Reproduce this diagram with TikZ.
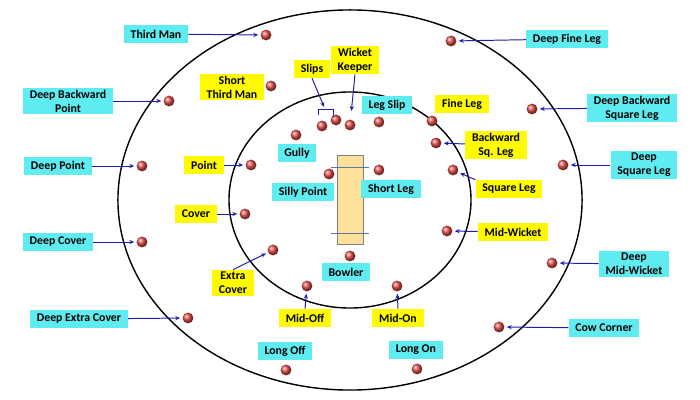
\documentclass[tikz,border=0pt]{standalone}
\usepackage{fontspec}
\setmainfont{Carlito}
\usetikzlibrary{arrows.meta}
\definecolor{deepcyan}{RGB}{95,236,240}
\definecolor{closeyellow}{RGB}{255,250,0}
\definecolor{pointerblue}{RGB}{30,30,170}
\definecolor{pitchfill}{RGB}{253,225,155}
\definecolor{creaseblue}{RGB}{90,120,170}
\definecolor{ballred}{RGB}{225,75,70}
\newcommand{\lbl}{\bfseries\fontsize{8.4}{10}\selectfont}

\begin{document}
\begin{tikzpicture}[x=0.025cm, y=-0.025cm,
        fielder/.style={circle, inner sep=0pt, minimum size=0.27cm, shading=ball, ball color=ballred},
        deepbox/.style={fill=deepcyan, align=center, inner xsep=4.8pt, inner ysep=1.5pt, minimum height=0.45cm, font=\lbl},
        closebox/.style={fill=closeyellow, align=center, inner xsep=4.8pt, inner ysep=1.5pt, minimum height=0.45cm, font=\lbl},
        pointer/.style={draw=pointerblue, line width=0.7pt, -{Stealth[length=3.5pt, width=3pt]}, shorten >=1.5pt}]
            \useasboundingbox (0,0) rectangle (700,400);

            % Draw the boundary and the inner ring
            \draw[line width=1pt] (350,200) ellipse [x radius=5.8cm, y radius=4.75cm];
            \draw[line width=1pt] (350,200) ellipse [x radius=3.025cm, y radius=2.7cm];

            % Draw the pitch
            \draw[draw=gray, fill=pitchfill] (337,155) rectangle (363,244);
            \draw[creaseblue] (331,167) -- (369,167);
            \draw[creaseblue] (331,233) -- (369,233);

            % Off side
            \node[fielder] (b-tm) at (266,35) {};
            \node[deepbox] (l-tm) at (156,34) {Third Man};

            \node[fielder] (b-stm) at (271,86) {};
            \node[closebox] (l-stm) at (232,87) {Short\\Third Man};

            \node[fielder] (b-dbp) at (169,101) {};
            \node[deepbox] (l-dbp) at (68,101) {Deep Backward\\Point};

            \node[fielder] (b-dp) at (142,166) {};
            \node[deepbox] (l-dp) at (58,166) {Deep Point};

            \node[fielder] (b-pt) at (251,165) {};
            \node[closebox] (l-pt) at (204,165) {Point};

            \node[fielder] (b-gu) at (296,135) {};
            \node[deepbox] (l-gu) at (297,153) {Gully};

            \node[fielder] (b-sp) at (329,174) {};
            \node[deepbox] (l-sp) at (303,192) {Silly Point};

            \node[fielder] (b-co) at (245,214) {};
            \node[closebox] (l-co) at (196,214) {Cover};

            \node[fielder] (b-dc) at (142,242) {};
            \node[deepbox] (l-dc) at (58,242) {Deep Cover};

            \node[fielder] (b-ec) at (273,250) {};
            \node[closebox] (l-ec) at (233,283) {Extra\\Cover};

            \node[fielder] (b-mo) at (307,286) {};
            \node[closebox] (l-mo) at (305,318) {Mid-Off};

            \node[fielder] (b-dec) at (188,318) {};
            \node[deepbox] (l-dec) at (79,319) {Deep Extra Cover};

            \node[fielder] (b-lo) at (286,370) {};
            \node[deepbox] (l-lo) at (285,351) {Long Off};

            % Behind and in front of the stumps
            \node[fielder] (b-sl1) at (322,126) {};
            \node[fielder] (b-sl2) at (336,120) {};
            \node[closebox] (l-sl) at (312,69) {Slips};
            \coordinate (sl-top) at (325,109);

            \node[fielder] (b-wk) at (350,125) {};
            \node[closebox] (l-wk) at (355,60) {Wicket\\Keeper};

            \node[fielder] (b-bo) at (350,256) {};
            \node[deepbox] (l-bo) at (346,272) {Bowler};

            % Leg side
            \node[fielder] (b-ls) at (379,122) {};
            \node[deepbox] (l-ls) at (387,105) {Leg Slip};

            \node[fielder] (b-fl) at (432,121) {};
            \node[closebox] (l-fl) at (462,104) {Fine Leg};

            \node[fielder] (b-bsl) at (436,143) {};
            \node[closebox] (l-bsl) at (496,145) {Backward\\Sq. Leg};

            \node[fielder] (b-sql) at (453,170) {};
            \node[closebox] (l-sql) at (509,189) {Square Leg};

            \node[fielder] (b-shl) at (379,170) {};
            \node[deepbox] (l-shl) at (391,189) {Short Leg};

            \node[fielder] (b-mw) at (447,231) {};
            \node[closebox] (l-mw) at (513,232) {Mid-Wicket};

            \node[fielder] (b-mon) at (397,286) {};
            \node[closebox] (l-mon) at (398,318) {Mid-On};

            \node[fielder] (b-lon) at (417,369) {};
            \node[deepbox] (l-lon) at (416,350) {Long On};

            \node[fielder] (b-dfl) at (451,41) {};
            \node[deepbox] (l-dfl) at (567,39) {Deep Fine Leg};

            \node[fielder] (b-dbsl) at (532,109) {};
            \node[deepbox] (l-dbsl) at (632,108) {Deep Backward\\Square Leg};

            \node[fielder] (b-dsql) at (563,165) {};
            \node[deepbox] (l-dsql) at (644,165) {Deep\\Square Leg};

            \node[fielder] (b-dmw) at (552,263) {};
            \node[deepbox] (l-dmw) at (634,264) {Deep\\Mid-Wicket};

            \node[fielder] (b-cc) at (499,327) {};
            \node[deepbox] (l-cc) at (604,328) {Cow Corner};

            % Draw the pointers
            \draw[pointerblue, line width=0.7pt] (318,115) -- (318,109) -- (333,109) -- (333,117);
            \draw[pointer] (l-sl.south) -- (sl-top);
            \draw[pointer, shorten >=6pt] (l-wk.south) -- (b-wk);
            \draw[pointer] (l-tm) -- (b-tm);
            \draw[pointer] (l-dbp) -- (b-dbp);
            \draw[pointer] (l-dp) -- (b-dp);
            \draw[pointer] (l-pt) -- (b-pt);
            \draw[pointer] (l-co) -- (b-co);
            \draw[pointer] (l-dc) -- (b-dc);
            \draw[pointer] (l-ec.north) -- (b-ec);
            \draw[pointer] (l-mo.north) -- (b-mo);
            \draw[pointer] (l-dec) -- (b-dec);
            \draw[pointer] (l-bsl) -- (b-bsl);
            \draw[pointer] (l-sql.north west) -- (b-sql);
            \draw[pointer] (l-mw) -- (b-mw);
            \draw[pointer] (l-mon.north) -- (b-mon);
            \draw[pointer] (l-dfl) -- (b-dfl);
            \draw[pointer] (l-dbsl) -- (b-dbsl);
            \draw[pointer] (l-dsql) -- (b-dsql);
            \draw[pointer] (l-dmw) -- (b-dmw);
            \draw[pointer] (l-cc) -- (b-cc);

        \end{tikzpicture}
\end{document}
